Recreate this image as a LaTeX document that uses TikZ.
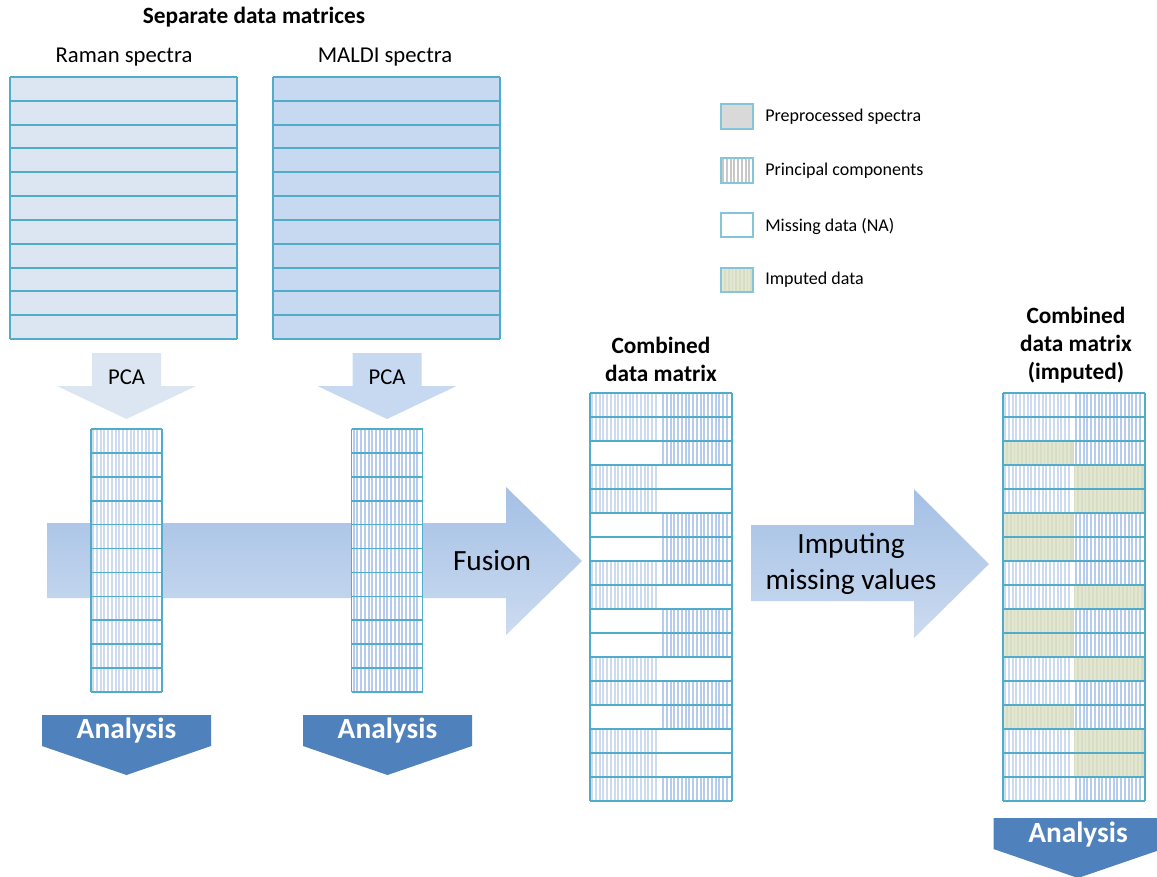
\documentclass[tikz,border=0pt]{standalone}
\usepackage{fontspec}
\setmainfont{Carlito}
\usepackage{tikz}
\usetikzlibrary{positioning}
\definecolor{gridteal}{RGB}{80,172,200}
\definecolor{ramanfill}{RGB}{220,230,242}
\definecolor{maldifill}{RGB}{198,217,241}
\definecolor{ramanstripe}{RGB}{204,219,240}
\definecolor{maldistripe}{RGB}{182,204,236}
\definecolor{imputefill}{RGB}{216,222,197}
\definecolor{imputestripe}{RGB}{227,231,210}
\definecolor{analysisblue}{RGB}{79,129,189}
\definecolor{flowtop}{RGB}{164,192,229}
\definecolor{flowbot}{RGB}{204,219,240}
\definecolor{legendgray}{RGB}{217,217,217}
\definecolor{legendstripe}{RGB}{200,200,200}

% vertical stripes of a principal component block: x0, x1, y0, y1, colour
\newcommand{\pcstripes}[5]{%
  \pgfmathtruncatemacro{\nstripe}{((#2)-(#1))/3.75-1}
  \foreach \k in {0,...,\nstripe}
    \fill[#5] ({(#1)+1.1+\k*3.75},#3) rectangle ++(1.9,{(#4)-(#3)});
}

\begin{document}
\begin{tikzpicture}[x=0.75pt, y=-0.75pt,
    gridline/.style={draw=gridteal, line width=1.5pt},
    thingrid/.style={draw=gridteal, line width=1.2pt},
    lbl/.style={font=\fontsize{17}{21}\selectfont},
    boldlbl/.style={font=\fontsize{17.5}{21}\selectfont\bfseries, align=center},
    flowtxt/.style={font=\fontsize{22}{27}\selectfont, align=center},
    anatxt/.style={font=\fontsize{22}{26}\selectfont\bfseries, text=white},
    legendtxt/.style={font=\fontsize{13.5}{16}\selectfont, anchor=west, inner sep=0pt},
    legendbox/.style={draw=gridteal!70, line width=1.1pt}]
  \useasboundingbox (0,0) rectangle (1157,876);

  % Fusion and imputing arrows (behind the matrices)
  \shade[top color=flowtop, bottom color=flowbot]
    (47,523) -- (506,523) -- (506,487) -- (582,561) -- (506,635)
    -- (506,598) -- (47,598) -- cycle;
  \shade[top color=flowtop, bottom color=flowbot]
    (751,525) -- (914,525) -- (914,489) -- (989,564) -- (914,638)
    -- (914,601) -- (751,601) -- cycle;
  \node[flowtxt] (fusion) at (492,561) {Fusion};
  \node[flowtxt] (impute) at (851,564) {Imputing\\missing values};

  % Separate data matrices
  \node[boldlbl] (title) at (254,17) {Separate data matrices};
  \node[lbl] (ramanlbl) at (124,57) {Raman spectra};
  \node[lbl] (maldilbl) at (385,57) {MALDI spectra};
  \foreach \x/\c in {10/ramanfill, 273/maldifill}{
    \fill[\c] (\x,77) rectangle (\x+227,339);
    \foreach \r in {0,...,11}
      \draw[gridline] (\x,{77+\r*23.82}) -- (\x+227,{77+\r*23.82});
    \draw[gridline] (\x,77) -- (\x,339) (\x+227,77) -- (\x+227,339);
  }

  % PCA arrows
  \foreach \cx/\c/\n in {126.5/ramanfill/pcaR, 387/maldifill/pcaM}{
    \fill[\c] (\cx-34.5,353) -- (\cx+34.5,353) -- (\cx+34.5,386)
      -- (\cx+69.5,386) -- (\cx,419) -- (\cx-69.5,386) -- (\cx-34.5,386) -- cycle;
    \node[lbl] (\n) at (\cx,377) {PCA};
  }

  % Principal component columns
  \foreach \cx/\s in {126.5/ramanstripe, 387/maldistripe}{
    \fill[white] (\cx-35.5,429) rectangle (\cx+35.5,692);
    \pcstripes{\cx-35.5}{\cx+35.5}{429}{692}{\s}
    \foreach \r in {0,...,11}
      \draw[thingrid] (\cx-35.5,{429+\r*23.9}) -- (\cx+35.5,{429+\r*23.9});
    \draw[thingrid] (\cx-35.5,429) -- (\cx-35.5,692) (\cx+35.5,429) -- (\cx+35.5,692);
  }

  % Analysis arrows
  \foreach \cx/\t/\n in {126.5/715/anaR, 387.5/715/anaM, 1078/818/anaC}{
    \fill[analysisblue] (\cx-84.5,\t) -- (\cx+84.5,\t) -- (\cx+84.5,\t+31)
      -- (\cx,\t+60) -- (\cx-84.5,\t+31) -- cycle;
    \node[anatxt] (\n) at (\cx,\t+16) {Analysis};
  }

  % Combined data matrix (s = components, n = missing)
  \node[boldlbl] (comblbl) at (661,359) {Combined\\data matrix};
  \fill[white] (590,393) rectangle (732,801);
  \foreach \l/\r [count=\i from 0] in {s/s,s/s,n/s,s/n,s/n,n/s,n/s,s/s,s/n,n/s,n/s,s/n,s/s,n/s,s/n,s/n,s/s}{
    \pgfmathsetmacro{\ytop}{393+\i*24}
    \if s\l \pcstripes{590}{661}{\ytop}{\ytop+24}{ramanstripe}\fi
    \if s\r \pcstripes{661}{732}{\ytop}{\ytop+24}{maldistripe}\fi
  }
  \foreach \r in {0,...,17}
    \draw[thingrid] (590,{393+\r*24}) -- (732,{393+\r*24});
  \draw[thingrid] (590,393) -- (590,801) (732,393) -- (732,801);

  % Combined data matrix after imputation
  \node[boldlbl] (implbl) at (1076,345) {Combined\\data matrix\\(imputed)};
  \fill[white] (1003,393) rectangle (1145,801);
  \foreach \l/\r [count=\i from 0] in {s/s,s/s,n/s,s/n,s/n,n/s,n/s,s/s,s/n,n/s,n/s,s/n,s/s,n/s,s/n,s/n,s/s}{
    \pgfmathsetmacro{\ytop}{393+\i*24}
    \if n\l
      \fill[imputefill] (1003,\ytop) rectangle (1074,\ytop+24);
      \pcstripes{1003}{1074}{\ytop}{\ytop+24}{imputestripe}
    \else
      \pcstripes{1003}{1074}{\ytop}{\ytop+24}{ramanstripe}
    \fi
    \if n\r
      \fill[imputefill] (1074,\ytop) rectangle (1145,\ytop+24);
      \pcstripes{1074}{1145}{\ytop}{\ytop+24}{imputestripe}
    \else
      \pcstripes{1074}{1145}{\ytop}{\ytop+24}{maldistripe}
    \fi
  }
  \foreach \r in {0,...,17}
    \draw[thingrid] (1003,{393+\r*24}) -- (1145,{393+\r*24});
  \draw[thingrid] (1003,393) -- (1003,801) (1145,393) -- (1145,801);

  % Legend
  \fill[legendgray] (721,104) rectangle (753,129);
  \draw[legendbox] (721,104) rectangle (753,129);
  \pcstripes{721}{753}{158}{183}{legendstripe}
  \draw[legendbox] (721,158) rectangle (753,183);
  \draw[legendbox] (721,213) rectangle (753,237);
  \fill[imputefill] (721,268) rectangle (753,292);
  \pcstripes{721}{753}{268}{292}{imputestripe}
  \draw[legendbox] (721,268) rectangle (753,292);
  \node[legendtxt] (lgpre) at (765,117) {Preprocessed spectra};
  \node[legendtxt] (lgpc)  at (765,171) {Principal components};
  \node[legendtxt] (lgna)  at (765,226) {Missing data (NA)};
  \node[legendtxt] (lgimp) at (765,280) {Imputed data};
\end{tikzpicture}
\end{document}
